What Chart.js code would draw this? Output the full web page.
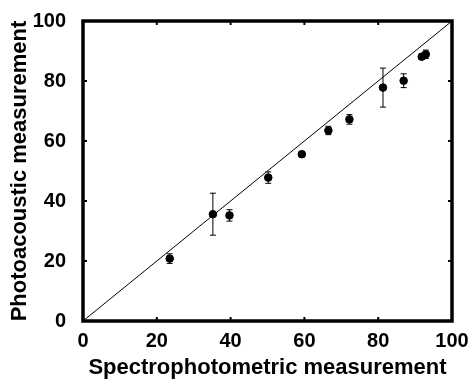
<!DOCTYPE html>
<html>
<head>
<meta charset="utf-8">
<script src="https://cdn.jsdelivr.net/npm/chart.js@4.4.0/dist/chart.umd.min.js"></script>
<style>
  html, body { margin: 0; padding: 0; background: #fff; }
  #wrap { width: 473px; height: 383px; }
</style>
</head>
<body>
<div id="wrap"><canvas id="paChart" width="473" height="383"></canvas></div>
<script>
// spectrophotometric (x) vs photoacoustic (y), with y error
var spectro = [23.5, 35.2, 39.7, 50.2, 59.3, 66.5, 72.2, 81.3, 86.9, 91.8, 92.9];
var photo   = [20.8, 35.6, 35.2, 47.8, 55.6, 63.5, 67.2, 77.8, 80.1, 88.1, 88.9];
var yerr    = [1.6, 7.0, 1.9, 1.9, 0.9, 1.4, 1.6, 6.5, 2.3, 0.9, 1.4];
var axisTicks = [0, 20, 40, 60, 80, 100];
var diagonal = [0, 100];

var points = spectro.map(function (x, i) { return { x: x, y: photo[i] }; });
var tickFont = { family: 'Arial, "Liberation Sans", sans-serif', size: 20, weight: 'bold' };
var titleFont = { family: 'Arial, "Liberation Sans", sans-serif', size: 22, weight: 'bold' };

// error bars, frame and inward ticks
var extras = {
  id: 'extras',
  afterDatasetsDraw: function (chart) {
    var ctx = chart.ctx, xs = chart.scales.x, ys = chart.scales.y, a = chart.chartArea;
    ctx.save();
    ctx.strokeStyle = '#000';
    ctx.lineWidth = 1;
    points.forEach(function (p, i) {
      var px = xs.getPixelForValue(p.x);
      var top = ys.getPixelForValue(p.y + yerr[i]);
      var bot = ys.getPixelForValue(p.y - yerr[i]);
      ctx.beginPath();
      ctx.moveTo(px, top); ctx.lineTo(px, bot);
      ctx.moveTo(px - 3, top); ctx.lineTo(px + 3, top);
      ctx.moveTo(px - 3, bot); ctx.lineTo(px + 3, bot);
      ctx.stroke();
    });
    ctx.lineWidth = 2;
    axisTicks.forEach(function (t) {
      var px = xs.getPixelForValue(t), py = ys.getPixelForValue(t);
      ctx.beginPath();
      ctx.moveTo(px, a.bottom); ctx.lineTo(px, a.bottom - 4);
      ctx.moveTo(px, a.top); ctx.lineTo(px, a.top + 4);
      ctx.moveTo(a.left, py); ctx.lineTo(a.left + 4, py);
      ctx.moveTo(a.right, py); ctx.lineTo(a.right - 4, py);
      ctx.stroke();
    });
    ctx.lineWidth = 3.5;
    ctx.strokeRect(a.left, a.top, a.right - a.left, a.bottom - a.top);
    ctx.restore();
  }
};

new Chart(document.getElementById('paChart'), {
  data: {
    datasets: [{
      type: 'line',
      data: diagonal.map(function (v) { return { x: v, y: v }; }),
      borderColor: '#000',
      borderWidth: 1,
      pointRadius: 0,
      fill: false
    }, {
      type: 'scatter',
      data: points,
      backgroundColor: '#000',
      borderColor: '#000',
      pointRadius: 3.8
    }]
  },
  options: {
    responsive: false,
    animation: false,
    layout: { padding: { top: 18, right: 21, left: 0, bottom: 0 } },
    plugins: { legend: { display: false }, tooltip: { enabled: false } },
    scales: {
      x: {
        type: 'linear', min: 0, max: 100,
        afterFit: function (s) { s.height = 62; },
        afterBuildTicks: function (s) { s.ticks = axisTicks.map(function (v) { return { value: v }; }); },
        grid: { display: false },
        border: { display: false },
        ticks: { color: '#000', font: tickFont, padding: 0, maxRotation: 0 },
        title: { display: true, text: 'Spectrophotometric measurement', color: '#000', font: titleFont, padding: { top: 0, bottom: 2 } }
      },
      y: {
        type: 'linear', min: 0, max: 100,
        afterFit: function (s) { s.width = 83; },
        afterBuildTicks: function (s) { s.ticks = axisTicks.map(function (v) { return { value: v }; }); },
        grid: { display: false },
        border: { display: false },
        ticks: { color: '#000', font: tickFont, padding: 9 },
        title: { display: true, text: 'Photoacoustic measurement', color: '#000', font: titleFont, padding: { top: 7, bottom: 7 } }
      }
    }
  },
  plugins: [extras]
});
</script>
</body>
</html>
